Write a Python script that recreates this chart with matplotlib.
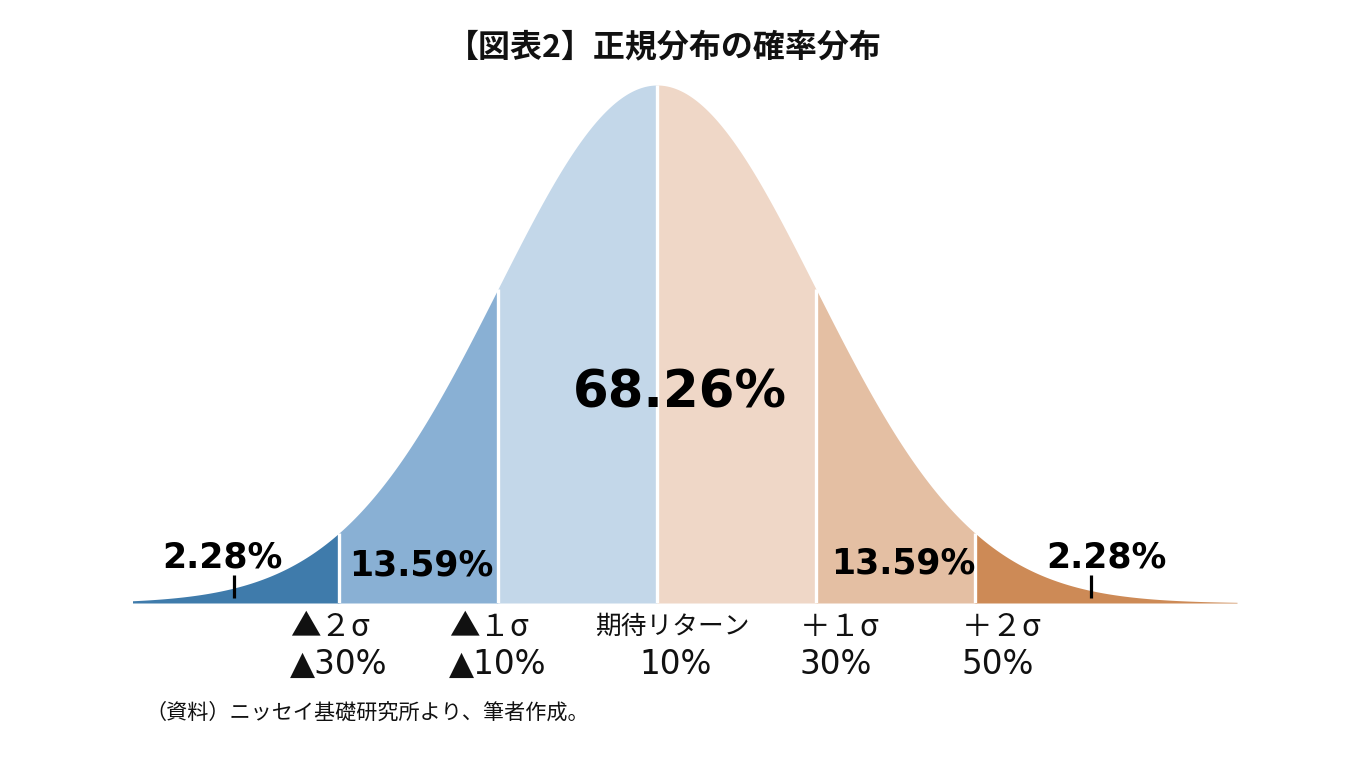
import numpy as np
import matplotlib.pyplot as plt

plt.rcParams['font.family'] = ['Noto Sans CJK JP', 'DejaVu Sans']

# --- data ---
edges = [-3.3, -2, -1, 0, 1, 2, 3.65]          # band boundaries in sigma units
shares = ["2.28%", "13.59%", "68.26%", "13.59%", "2.28%"]
band_colors = ["#3f7bab", "#89b0d4", "#c3d7e9", "#efd7c7", "#e4bfa3", "#cd8a56"]
sigma_names = ["▲２σ", "▲１σ", "期待リターン", "＋１σ", "＋２σ"]
returns = ["▲30%", "▲10%", "10%", "30%", "50%"]
pointer_x = [-2.66, 2.73]

W, H = 1351, 758
fig = plt.figure(figsize=(W / 100, H / 100), dpi=100)

def fx(px):
    return px / W

def fy(py):
    return 1 - py / H

# axes: x in sigma units, baseline at y=603px, peak at y=85px
ax = fig.add_axes([fx(132.5), fy(603), (1237 - 132.5) / W, (603 - 85) / H])
ax.set_xlim(edges[0], edges[-1])
peak = 1 / np.sqrt(2 * np.pi)
ax.set_ylim(0, peak)
ax.axis('off')

def pdf(x):
    return np.exp(-x ** 2 / 2) / np.sqrt(2 * np.pi)

for i in range(len(edges) - 1):
    xs = np.linspace(edges[i], edges[i + 1], 200)
    ax.fill_between(xs, 0, pdf(xs), color=band_colors[i], linewidth=0)

# white separators
for e in edges[1:-1]:
    ax.plot([e, e], [0, pdf(e)], color='white', lw=2.4, solid_capstyle='butt')

# pointer ticks for tails
for px_ in pointer_x:
    ax.plot([px_, px_], [0.0039, 0.0216], color='black', lw=2.3, solid_capstyle='butt')

# title
fig.text(fx(664), fy(47), "【図表2】正規分布の確率分布", ha='center', va='center',
         fontsize=23, fontweight='bold', color='#111111')

# percentage labels
pct_pos = [(222, 557), (421, 566), (680, 393), (903, 563), (1106, 557)]
pct_size = [25, 25, 37, 25, 25]
for s, (x, y), fs in zip(shares, pct_pos, pct_size):
    fig.text(fx(x), fy(y), s, ha='center', va='center', fontsize=fs,
             fontweight='bold', family='DejaVu Sans', color='black')

# sigma / return labels
lab_x = [290, 449, 672, 800, 962]
lab_ha = ['left', 'left', 'center', 'left', 'left']
for name, ret, x, ha in zip(sigma_names, returns, lab_x, lab_ha):
    fs = 18.5 if name == "期待リターン" else 22
    fig.text(fx(x), fy(627), name, ha=ha, va='center', fontsize=fs, color='#111111')
    fig.text(fx(x + (4 if ha == 'center' else 0)), fy(664), ret, ha=ha, va='center',
             fontsize=23.5, family=['DejaVu Sans', 'Noto Sans CJK JP'], color='#111111')

# source
fig.text(fx(145), fy(713), "（資料）ニッセイ基礎研究所より、筆者作成。", ha='left', va='center',
         fontsize=15.2, color='#111111')

fig.savefig("out.png", dpi=100, facecolor='white')
